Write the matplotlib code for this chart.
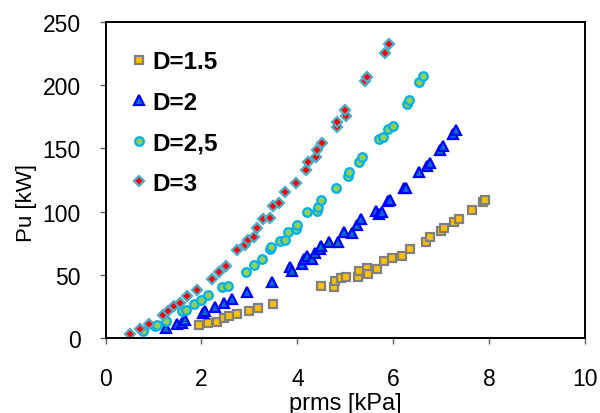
import matplotlib
matplotlib.use('Agg')
import matplotlib.pyplot as plt

plt.rcParams['font.family'] = ['Liberation Sans', 'DejaVu Sans']

# D = 1.5
x15 = [1.95, 2.13, 2.32, 2.48, 2.58, 2.75, 2.99, 3.18, 3.50, 4.50, 4.76, 4.79, 4.90, 5.02,
       5.26, 5.28, 5.45, 5.47, 5.67, 5.80, 5.97, 6.18, 6.36, 6.68, 6.77, 6.99, 7.06, 7.27,
       7.38, 7.64, 7.87, 7.92]
y15 = [10.7, 12.1, 13.1, 16.3, 17.8, 19.4, 21.6, 24.2, 27.6, 41.3, 40.3, 45.5, 47.4, 48.6,
       48.2, 53.4, 56.0, 51.0, 54.7, 61.3, 63.4, 65.2, 70.5, 75.8, 79.8, 85.0, 86.9, 92.0,
       94.2, 101.8, 108.0, 109.4]

# D = 2
x2 = [1.25, 1.49, 1.59, 1.66, 2.04, 2.07, 2.28, 2.47, 2.64, 2.95, 3.48, 3.85, 3.89, 4.10,
      4.13, 4.21, 4.30, 4.37, 4.47, 4.49, 4.66, 4.85, 4.97, 5.15, 5.24, 5.33, 5.63, 5.71,
      5.76, 5.90, 5.93, 6.22, 6.26, 6.54, 6.70, 6.77, 6.97, 7.04, 7.24, 7.31]
y2 = [7.9, 11.3, 12.6, 14.5, 20.2, 21.6, 25.0, 28.3, 31.0, 37.0, 44.7, 56.1, 53.6, 58.7,
      62.6, 65.2, 62.6, 67.6, 70.5, 72.8, 75.8, 75.8, 84.2, 83.2, 89.5, 94.2, 100.3, 98.2,
      99.5, 108.2, 109.4, 118.7, 118.7, 131.1, 136.3, 138.4, 148.9, 152.1, 161.3, 164.7]

# D = 2,5
x25 = [0.78, 1.03, 1.08, 1.25, 1.59, 1.67, 1.85, 2.00, 2.13, 2.42, 2.56, 2.92, 3.10, 3.27,
       3.43, 3.46, 3.64, 3.74, 3.81, 3.97, 3.99, 4.21, 4.41, 4.44, 4.49, 4.80, 5.05, 5.08,
       5.29, 5.35, 5.71, 5.79, 5.90, 6.00, 6.28, 6.33, 6.54, 6.63]
y25 = [6.0, 10.0, 11.0, 13.9, 21.5, 22.5, 27.4, 30.6, 34.7, 40.7, 41.8, 52.6, 57.9, 62.6,
       70.5, 72.3, 77.1, 77.6, 84.2, 86.3, 89.7, 99.5, 100.8, 103.4, 109.4, 118.4, 128.4, 131.1,
       139.5, 142.9, 157.4, 158.7, 165.3, 167.4, 185.0, 188.2, 202.6, 207.4]

# D = 3
x3 = [0.51, 0.72, 0.91, 1.20, 1.31, 1.42, 1.55, 1.70, 1.90, 2.21, 2.37, 2.51, 2.75, 2.90,
      2.96, 3.09, 3.15, 3.28, 3.43, 3.50, 3.62, 3.75, 3.97, 4.18, 4.23, 4.39, 4.42, 4.52,
      4.83, 4.83, 5.01, 5.00, 5.42, 5.46, 5.83, 5.91]
y3 = [3.9, 7.3, 11.5, 18.8, 21.8, 25.3, 28.2, 33.4, 38.6, 46.8, 52.7, 57.6, 69.5, 73.5,
      77.5, 80.2, 87.6, 94.0, 95.3, 104.2, 107.1, 115.5, 122.6, 133.1, 139.5, 142.9, 149.0, 154.2,
      166.6, 171.0, 175.3, 180.5, 203.4, 206.6, 225.3, 232.4]

fig = plt.figure(figsize=(6, 4.14), dpi=100)
ax = fig.add_axes([0.176, 0.180, 0.799, 0.765])

ax.plot(x15, y15, ls='none', marker='s', ms=6, mfc='#FFC000', mec='#808080', mew=1.6, label='D=1.5')
ax.plot(x2, y2, ls='none', marker='^', ms=7, mfc='#0070C0', mec='#0000FF', mew=1.6, label='D=2')
ax.plot(x25, y25, ls='none', marker='o', ms=6.2, mfc='#92D050', mec='#00B0F0', mew=1.6, label='D=2,5')
ax.plot(x3, y3, ls='none', marker='D', ms=5.5, mfc='#FF0000', mec='#4BACC6', mew=1.6, label='D=3')

ax.set_xlim(0, 10)
ax.set_ylim(0, 250)
ax.set_xticks(range(0, 11, 2))
ax.set_yticks(range(0, 251, 50))
ax.tick_params(direction='out', length=4, width=1, color='#606060', labelsize=16.5)
ax.tick_params(axis='x', pad=16.5)
ax.tick_params(axis='y', pad=14)
for s in ax.spines.values():
    s.set_linewidth(1.4)
    s.set_color('black')

ax.set_xlabel('prms [kPa]', fontsize=17)
ax.xaxis.set_label_coords(0.5, -0.168)
ax.set_ylabel('Pu [kW]', fontsize=16, va='center')
ax.yaxis.set_label_coords(-0.164, 0.43)

ax.legend(loc='upper left', bbox_to_anchor=(0.221, 0.876), bbox_transform=fig.transFigure,
          frameon=False, prop={'weight': 'bold', 'size': 17.5}, handlelength=0.5,
          handletextpad=0.3, labelspacing=0.72, borderpad=0, borderaxespad=0)

fig.savefig('out.png', dpi=100)
